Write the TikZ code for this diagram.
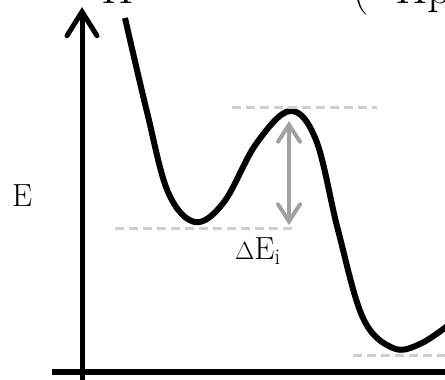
\documentclass[tikz,border=0pt]{standalone}
\usepackage{fontspec}
\setmainfont{Latin Modern Roman}
\usetikzlibrary{arrows.meta}

\begin{document}
\begin{tikzpicture}[x=1pt, y=-1pt,
  barb/.style={-{Straight Barb[length=24pt, width=30pt, line cap=round]}},
  gbarb/.style={{Straight Barb[length=17pt, width=22pt, line cap=round]}-{Straight Barb[length=17pt, width=22pt, line cap=round]}},
  level/.style={black!19, line width=3pt, dash pattern=on 9pt off 5pt},
  bigtext/.style={font=\fontsize{47pt}{52pt}\selectfont, inner sep=0pt, anchor=base west},
  lbl/.style={font=\fontsize{32pt}{36pt}\selectfont, inner sep=0pt, anchor=base west}]
  \useasboundingbox (0,0) rectangle (445,380);
  \clip (0,0) rectangle (445,380);
  % Cut-off title text along the top edge.
  \node[bigtext] (ttl) at (101,3) {H};
  \node[bigtext] (ttr) at (352,4) {(};
  \node[bigtext] (tts) at (395,4) {Hp};
  % Axes.
  \coordinate (org) at (82,372);
  \coordinate (ytop) at (82,7);
  \draw[line width=5pt, barb] (82,382) -- (ytop);
  \draw[line width=5.5pt] (52,372) -- (450,372);
  \node[lbl] (elab) at (12,206) {E};
  % Energy landscape: two minima and a barrier.
  \coordinate (minA) at (195,222);
  \coordinate (peak) at (290,111);
  \coordinate (minB) at (393,348);
  \draw[line width=6pt, line join=round] plot[smooth, tension=0.6]
    coordinates {(125,18) (147,112) (168,192) (minA) (224,202)
      (256,144) (peak) (316,140) (338,230) (363,318) (minB)
      (420,344) (450,324)};
  % Dashed reference levels.
  \draw[level] (232,107) -- (377,107);
  \draw[level] (115,228) -- (293,228);
  \draw[level] (353,355) -- (447,355);
  % Barrier height.
  \coordinate (btop) at (289,121);
  \coordinate (bbot) at (289,225);
  \draw[black!37, line width=4pt, gbarb] (btop) -- (bbot);
  \node[lbl] (dlab) at (235,259) {$\Delta$E$_\mathrm{i}$};
\end{tikzpicture}
\end{document}
